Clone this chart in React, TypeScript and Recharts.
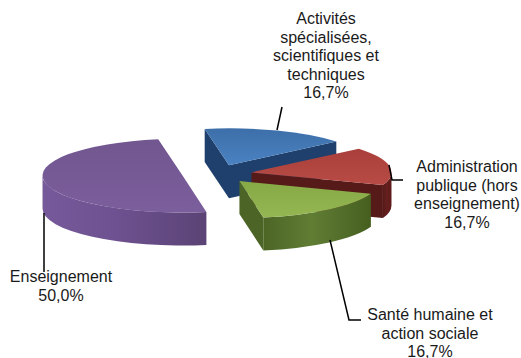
import { PieChart, Pie } from 'recharts';

const sectors = [
  'Activités spécialisées, scientifiques et techniques',
  'Administration publique (hors enseignement)',
  'Santé humaine et action sociale',
  'Enseignement',
];
const shares = [16.7, 16.7, 16.7, 50.0];
const shareLabels = ['16,7%', '16,7%', '16,7%', '50,0%'];

// label text split by line, and where the callouts sit
const labelLines = [
  ['Activités', 'spécialisées,', 'scientifiques et', 'techniques', '16,7%'],
  ['Administration', 'publique (hors', 'enseignement)', '16,7%'],
  ['Santé humaine et', 'action sociale', '16,7%'],
  ['Enseignement', '50,0%'],
];
const labelAnchors = [
  { x: 326, y: 24 },
  { x: 467, y: 172 },
  { x: 430, y: 320 },
  { x: 61, y: 282 },
];
const leaders = [
  '282,107 277,130',
  '389,165 392,180 403,180',
  '330,240 349,320 361,320',
  '44,213 44,272',
];

const topColors = [
  ['#3d6fa9', '#4a82c2'],
  ['#a93f3b', '#b84b45'],
  ['#86a845', '#94b653'],
  ['#71568f', '#7b5e9c'],
];
const wallColors = [
  ['#1f3f6c', '#24487a', '#1f3f6c'],
  ['#561a19', '#651f1e', '#5c1b1a'],
  ['#4c6526', '#607d34', '#465f20'],
  ['#76599a', '#6d5190', '#5b4375'],
];

const SQUASH = 0.264;
const DEPTH = 33;
const EXPLODE = 0.25;
const rad = (d: number) => (d * Math.PI) / 180;

function Slice3D(props: any) {
  const { cx, cy, outerRadius: r, startAngle: s, endAngle: e, index } = props;
  const i = index ?? sectors.indexOf(props.name);
  const rx = r;
  const ry = r * SQUASH;
  const mid = (s + e) / 2;
  const ox = cx + EXPLODE * rx * Math.cos(rad(mid));
  const oy = cy - EXPLODE * ry * Math.sin(rad(mid));
  const pt = (a: number, d = 0) => [ox + rx * Math.cos(rad(a)), oy - ry * Math.sin(rad(a)) + d];

  const wall = (a: number) => {
    const p = pt(a);
    const q = pt(a, DEPTH);
    return `M${ox},${oy} L${p[0]},${p[1]} L${q[0]},${q[1]} L${ox},${oy + DEPTH} Z`;
  };

  const walls = [];
  if (Math.cos(rad(s)) < 0) walls.push(wall(s));
  if (Math.cos(rad(e)) > 0) walls.push(wall(e));

  // the rim only shows on the front half of the ellipse
  const from = Math.min(s, 0);
  const to = Math.max(e, -180);
  let rim = '';
  if (from > to) {
    const a = pt(from);
    const b = pt(to);
    const c = pt(to, DEPTH);
    const d = pt(from, DEPTH);
    rim = `M${a[0]},${a[1]} A${rx},${ry} 0 0 1 ${b[0]},${b[1]} L${c[0]},${c[1]} A${rx},${ry} 0 0 0 ${d[0]},${d[1]} Z`;
  }

  const start = pt(s);
  const end = pt(e);
  const large = s - e > 180 ? 1 : 0;
  const top = `M${ox},${oy} L${start[0]},${start[1]} A${rx},${ry} 0 ${large} 1 ${end[0]},${end[1]} Z`;

  return (
    <g>
      <defs>
        <linearGradient id={`wall${i}`} x1="0" y1="0" x2="1" y2="0">
          <stop offset="0%" stopColor={wallColors[i][0]} />
          <stop offset="45%" stopColor={wallColors[i][1]} />
          <stop offset="100%" stopColor={wallColors[i][2]} />
        </linearGradient>
        <linearGradient id={`top${i}`} x1="0" y1="0" x2="0" y2="1">
          <stop offset="0%" stopColor={topColors[i][0]} />
          <stop offset="100%" stopColor={topColors[i][1]} />
        </linearGradient>
      </defs>
      {walls.map((d, k) => (
        <path key={k} d={d} fill={wallColors[i][0]} />
      ))}
      {rim && <path d={rim} fill={`url(#wall${i})`} />}
      <path d={top} fill={`url(#top${i})`} />
    </g>
  );
}

function Callout(props: any) {
  const i = props.index;
  const anchor = labelAnchors[i];
  return (
    <g>
      <polyline points={leaders[i]} fill="none" stroke="#000" strokeWidth={1.5} />
      <text
        x={anchor.x}
        y={anchor.y}
        textAnchor="middle"
        fontFamily="Liberation Sans"
        fontSize={16}
        fill="#1a1a1a"
      >
        {labelLines[i].map((line, k) => (
          <tspan key={k} x={anchor.x} y={anchor.y + k * 18.5}>
            {line}
          </tspan>
        ))}
      </text>
    </g>
  );
}

const tableData = sectors.map((name, i) => ({ name, value: shares[i], label: shareLabels[i] }));

export default function App() {
  return (
    <div style={{ position: 'absolute', left: 0, top: 0 }}>
      <PieChart width={521} height={358} margin={{ top: 0, right: 0, bottom: 0, left: 0 }}>
        <Pie
          data={tableData}
          dataKey="value"
          nameKey="name"
          cx={217}
          cy={174}
          innerRadius={0}
          outerRadius={140}
          startAngle={100}
          endAngle={-260}
          stroke="none"
          shape={Slice3D}
          label={Callout}
          labelLine={false}
          isAnimationActive={false}
        />
      </PieChart>
    </div>
  );
}
